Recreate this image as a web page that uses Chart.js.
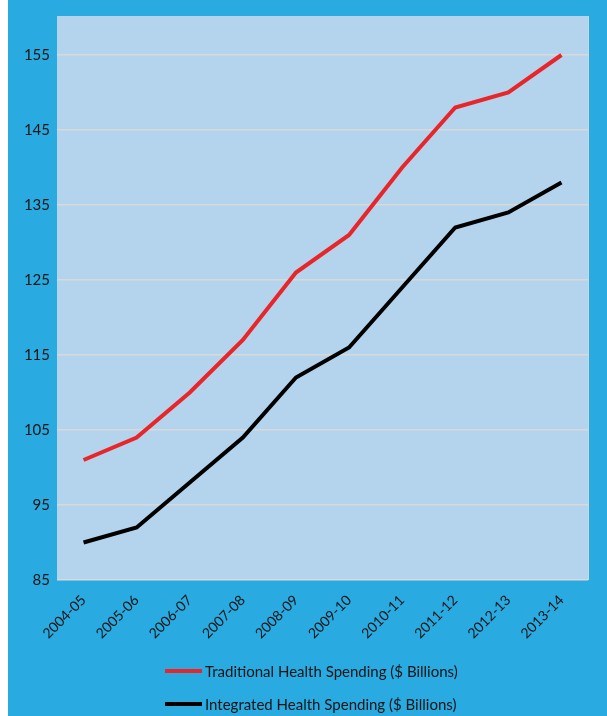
<!DOCTYPE html>
<html>
<head>
<meta charset="utf-8">
<script src="https://cdn.jsdelivr.net/npm/chart.js@4/dist/chart.umd.min.js"></script>
<style>
  html, body { margin: 0; padding: 0; background: #ffffff; }
  #wrap { position: absolute; left: 8px; top: 0; width: 599px; height: 716px; background: #29abe2; }
</style>
</head>
<body>
<div id="wrap"><canvas id="spendChart" width="599" height="716"></canvas></div>
<script>
// Chart data
const years = ["2004-05", "2005-06", "2006-07", "2007-08", "2008-09",
               "2009-10", "2010-11", "2011-12", "2012-13", "2013-14"];
const traditional = [101, 104, 110, 117, 126, 131, 140, 148, 150, 155];
const integrated = [90, 92, 98, 104, 112, 116, 124, 132, 134, 138];
const yTicks = [85, 95, 105, 115, 125, 135, 145, 155];

// plot background + light edges
const plotBg = {
  id: "plotBg",
  beforeDraw(chart) {
    const { ctx, chartArea: a } = chart;
    ctx.save();
    ctx.fillStyle = "#b4d3ec";
    ctx.fillRect(a.left, a.top, a.right - a.left, a.bottom - a.top);
    ctx.strokeStyle = "#c9d8e4";
    ctx.lineWidth = 1;
    ctx.beginPath();
    ctx.moveTo(a.right + 0.5, a.top);
    ctx.lineTo(a.right + 0.5, a.bottom);
    ctx.stroke();
    ctx.restore();
  }
};

// stacked legend under the axis
const stackedLegend = {
  id: "stackedLegend",
  afterDraw(chart) {
    const ctx = chart.ctx;
    const rows = [671, 704];
    ctx.save();
    ctx.font = "15px Lato";
    ctx.textBaseline = "middle";
    chart.data.datasets.forEach((ds, i) => {
      const y = rows[i];
      ctx.strokeStyle = ds.borderColor;
      ctx.lineWidth = 4;
      ctx.beginPath();
      ctx.moveTo(157, y);
      ctx.lineTo(194, y);
      ctx.stroke();
      ctx.fillStyle = "#141414";
      ctx.fillText(ds.label, 197, y + 1);
    });
    ctx.restore();
  }
};

new Chart(document.getElementById("spendChart"), {
  type: "line",
  data: {
    labels: years,
    datasets: [
      {
        label: "Traditional Health Spending ($ Billions)",
        data: traditional,
        borderColor: "#e8262a",
        borderWidth: 4,
        pointRadius: 0,
        tension: 0
      },
      {
        label: "Integrated Health Spending ($ Billions)",
        data: integrated,
        borderColor: "#000000",
        borderWidth: 4,
        pointRadius: 0,
        tension: 0
      }
    ]
  },
  options: {
    responsive: false,
    animation: false,
    layout: { padding: { left: 0, right: 19, top: 14, bottom: 0 } },
    plugins: { legend: { display: false }, tooltip: { enabled: false } },
    scales: {
      x: {
        offset: true,
        grid: { display: false },
        border: { display: false },
        ticks: {
          color: "#141414",
          font: { family: "Lato", size: 14 },
          minRotation: 45,
          maxRotation: 45,
          padding: 4
        },
        afterFit(scale) { scale.height = 136; }
      },
      y: {
        min: 85,
        max: 160.2,
        border: { display: false },
        grid: { color: "#d9d9d9", lineWidth: 1.5, drawTicks: false },
        afterBuildTicks(scale) {
          scale.ticks = yTicks.map(v => ({ value: v }));
        },
        ticks: {
          color: "#141414",
          font: { family: "Lato", size: 15 },
          padding: 7
        },
        afterFit(scale) { scale.width = 49; }
      }
    }
  },
  plugins: [plotBg, stackedLegend]
});
</script>
</body>
</html>
